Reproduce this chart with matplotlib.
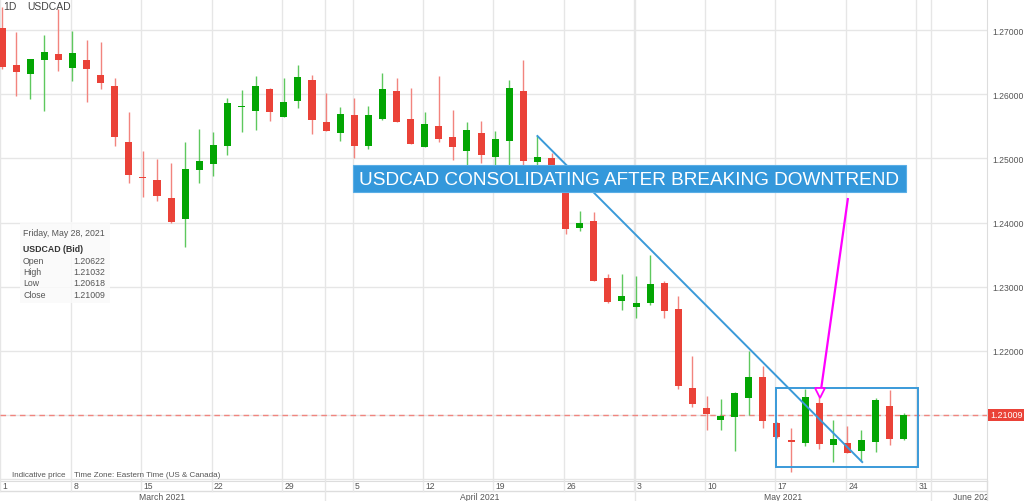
import matplotlib
matplotlib.use('Agg')
import matplotlib.pyplot as plt
from matplotlib.patches import Rectangle
from matplotlib.transforms import blended_transform_factory
import numpy as np
import pandas as pd

plt.rcParams['font.family'] = ['Liberation Sans', 'DejaVu Sans']

# ---------------- data ----------------
dates = pd.bdate_range('2021-03-01', '2021-05-28')
opens = [1.27031, 1.26455, 1.26314, 1.26533, 1.26626, 1.26408, 1.26533, 1.26299, 1.26128, 1.25255,
         1.24710, 1.24663, 1.24383, 1.24055, 1.24819, 1.24912, 1.25193, 1.25800, 1.25738, 1.26081,
         1.25645, 1.25894, 1.26221, 1.25567, 1.25395, 1.25676, 1.25193, 1.25613, 1.26050, 1.25613,
         1.25177, 1.25504, 1.25333, 1.25115, 1.25395, 1.25021, 1.25271, 1.26050, 1.24943, 1.25006,
         1.24650, 1.23915, 1.24024, 1.23134, 1.22778, 1.22684, 1.22747, 1.23056, 1.22653, 1.21424,
         1.21112, 1.20925, 1.20971, 1.21268, 1.21594, 1.20877, 1.20610, 1.20565, 1.21190, 1.20534,
         1.20565, 1.20441, 1.20590, 1.21143, 1.20622]
highs = [1.27358, 1.26969, 1.26548, 1.26922, 1.27327, 1.26984, 1.26844, 1.26813, 1.26252, 1.25722,
         1.25115, 1.24990, 1.24928, 1.25255, 1.25458, 1.25411, 1.25941, 1.26065, 1.26283, 1.26096,
         1.26252, 1.26455, 1.26299, 1.26018, 1.25800, 1.25941, 1.25816, 1.26330, 1.26252, 1.26096,
         1.25722, 1.26283, 1.25754, 1.25567, 1.25582, 1.25426, 1.26221, 1.26533, 1.25349, 1.25084,
         1.24700, 1.24180, 1.24164, 1.23196, 1.23196, 1.23165, 1.23495, 1.23087, 1.22853, 1.21921,
         1.21299, 1.21252, 1.21361, 1.21999, 1.21765, 1.20900, 1.20800, 1.21408, 1.21284, 1.20925,
         1.20831, 1.20768, 1.21268, 1.21392, 1.21032]
lows = [1.26392, 1.25972, 1.25925, 1.25738, 1.26361, 1.26205, 1.25878, 1.26081, 1.25193, 1.24616,
        1.24399, 1.24336, 1.23993, 1.23619, 1.24616, 1.24725, 1.25052, 1.25411, 1.25442, 1.25582,
        1.25645, 1.25785, 1.25380, 1.25426, 1.25271, 1.25006, 1.25146, 1.25598, 1.25567, 1.25224,
        1.25177, 1.25255, 1.24975, 1.24850, 1.24928, 1.24870, 1.24834, 1.24850, 1.24897, 1.24600,
        1.23822, 1.23868, 1.23087, 1.22747, 1.22638, 1.22513, 1.22716, 1.22513, 1.21408, 1.21127,
        1.20768, 1.20768, 1.20441, 1.21003, 1.20800, 1.20640, 1.20114, 1.20519, 1.20472, 1.20270,
        1.20410, 1.20285, 1.20425, 1.20534, 1.20618]
closes = [1.26424, 1.26346, 1.26548, 1.26657, 1.26533, 1.26642, 1.26392, 1.26174, 1.25333, 1.24741,
          1.24695, 1.24414, 1.24009, 1.24834, 1.24959, 1.25208, 1.25863, 1.25816, 1.26128, 1.25722,
          1.25878, 1.26268, 1.25598, 1.25426, 1.25691, 1.25193, 1.25676, 1.26081, 1.25567, 1.25224,
          1.25535, 1.25302, 1.25177, 1.25442, 1.25052, 1.25302, 1.26096, 1.24959, 1.25021, 1.24700,
          1.23900, 1.23993, 1.23087, 1.22762, 1.22853, 1.22747, 1.23040, 1.22622, 1.21454, 1.21174,
          1.21018, 1.20987, 1.21346, 1.21594, 1.20909, 1.20659, 1.20590, 1.21284, 1.20550, 1.20628,
          1.20410, 1.20610, 1.21236, 1.20628, 1.21009]

price_ticks = [1.20, 1.21, 1.22, 1.23, 1.24, 1.25, 1.26, 1.27]
week_labels = ['1', '8', '15', '22', '29', '5', '12', '19', '26', '3', '10', '17', '24', '31']
week_idx = [0, 5, 10, 15, 20, 25, 30, 35, 40, 45, 50, 55, 60, 65]
month_labels = ['March 2021', 'April 2021', 'May 2021', 'June 2021']
month_idx = [0, 23, 45, 66]
banner_text = 'USDCAD CONSOLIDATING AFTER BREAKING DOWNTREND'
last_close = closes[-1]

# ---------------- style ----------------
GREEN = '#03a503'
RED = '#ea4238'
GREEN_W = '#5ec85e'
RED_W = '#f2847e'
GRID = '#e6e6e6'
BLUE = '#3a9ad9'
TXT = '#555555'

W, H = 1024, 502
fig = plt.figure(figsize=(W / 100, H / 100), dpi=100)
fig.patch.set_facecolor('white')

x_left_px, x_right_px, plot_bottom_px = 0, 987, 482
ax = fig.add_axes([0, (H - plot_bottom_px) / H, x_right_px / W, plot_bottom_px / H])
px_per_day = 14.09
x0 = 2.0
ax.set_xlim((x_left_px - x0) / px_per_day, (x_right_px - x0) / px_per_day)
ax.set_ylim(1.19975, 1.27483)

idx = np.arange(len(opens))
o = np.array(opens); c = np.array(closes); hi = np.array(highs); lo = np.array(lows)
up = c >= o

# grid
for p in price_ticks:
    ax.axhline(p, color=GRID, lw=1, zorder=0)
for wi in week_idx:
    ax.axvline(wi - 0.12, color=GRID, lw=1, zorder=0)
for mi in month_idx[1:]:
    ax.axvline(mi - 0.08, color=GRID, lw=1, zorder=0)

# candles
ax.vlines(idx[up], lo[up], hi[up], color=GREEN_W, lw=1, zorder=2)
ax.vlines(idx[~up], lo[~up], hi[~up], color=RED_W, lw=1, zorder=2)
body_lo = np.minimum(o, c)
body_h = np.maximum(np.abs(c - o), 0.00012)
ax.bar(idx[up], body_h[up], bottom=body_lo[up], width=0.5, color=GREEN, zorder=3, linewidth=0)
ax.bar(idx[~up], body_h[~up], bottom=body_lo[~up], width=0.5, color=RED, zorder=3, linewidth=0)

# last price dashed line
ax.axhline(last_close, color='#f0857f', lw=1, ls=(0, (4, 3)), zorder=1)

# trendline
ax.plot([38, 61.05], [highs[38], 1.2027], color=BLUE, lw=1.4, zorder=5)
# consolidation rectangle
ax.add_patch(Rectangle((54.93, 1.2019), 65.0 - 54.93, 1.2142 - 1.2019, fill=False,
                       ec=BLUE, lw=1.4, zorder=5))
# magenta arrow
ax.plot([60.04, 58.13], [1.24383, 1.21400], color='#ff00ff', lw=1.6, zorder=6,
        solid_capstyle='butt')
ax.plot([58.08], [1.2135], marker='v', ms=7, mfc='white', mec='#ff00ff', mew=1.3, zorder=7)

# banner
ax.add_patch(Rectangle((24.91, 1.24477), 64.16 - 24.91, 1.24897 - 1.24477, fc='#3498db',
                       ec='#5aaee6', lw=0.8, zorder=8))
ax.text((24.91 + 64.16) / 2, 1.24670, banner_text, color='white', fontsize=13.7,
        ha='center', va='center', zorder=9)

# axes cosmetics
for s in ['top', 'left']:
    ax.spines[s].set_visible(False)
ax.spines['right'].set_color('#dddddd')
ax.spines['bottom'].set_color('#dddddd')
ax.yaxis.tick_right()
ax.set_yticks(price_ticks)
ax.set_yticklabels(['' if p < 1.215 else f'{p:.5f}' for p in price_ticks])
ax.tick_params(axis='y', length=0, pad=4, labelsize=6.2, labelcolor=TXT)
ax.set_xticks([])

# last price box
trans = blended_transform_factory(fig.transFigure, ax.transData)
ax.add_patch(Rectangle((988 / W, last_close - 0.00095), 36 / W, 0.0019, fc=RED, ec='none',
                       transform=trans, clip_on=False, zorder=10))
ax.text(990 / W, last_close, f'{last_close:.5f}', transform=trans, color='white',
        fontsize=6.5, va='center', ha='left', clip_on=False, zorder=11)

# date axis
axd = fig.add_axes([0, 0, x_right_px / W, (H - plot_bottom_px) / H])
axd.set_xlim(ax.get_xlim())
axd.set_ylim(0, 20)
axd.axis('off')
axd.axhline(10, color='#dddddd', lw=1)
for wi, lab in zip(week_idx, week_labels):
    axd.plot([wi - 0.12, wi - 0.12], [10, 20], color=GRID, lw=1)
    axd.text(wi + 0.05, 15, lab, fontsize=6.2, color=TXT, ha='left', va='center', clip_on=True)
bounds = [ax.get_xlim()[0]] + [m - 0.08 for m in month_idx[1:]] + [72.0]
for mi in month_idx[1:]:
    axd.plot([mi - 0.08, mi - 0.08], [0, 20], color=GRID, lw=1)
for k, lab in enumerate(month_labels):
    axd.text((bounds[k] + bounds[k + 1]) / 2, 4.5, lab, fontsize=6.2, color=TXT,
             ha='center', va='center', clip_on=True)
axd.plot([axd.get_xlim()[1]] * 2, [0, 20], color='#dddddd', lw=1, clip_on=False)

# header
fig.text(3 / W, 1 - 7 / H, '1D', fontsize=7.5, color='#444444', va='center')
fig.text(27 / W, 1 - 7 / H, 'USDCAD', fontsize=7.5, color='#444444', va='center')

# tooltip
fig.patches.append(Rectangle((20 / W, 1 - 304 / H), 90 / W, 81 / H, transform=fig.transFigure,
                             fc='#fafafa', ec='none', alpha=0.85, zorder=1))
fig.text(23 / W, 1 - 233 / H, 'Friday, May 28, 2021', fontsize=6.3, color=TXT, va='center',
         zorder=4)
fig.text(23 / W, 1 - 250 / H, 'USDCAD (Bid)', fontsize=6.3, color='#333333', va='center',
         fontweight='bold', zorder=4)
for lab, val, yy in [('Open', '1.20622', 262), ('High', '1.21032', 273),
                     ('Low', '1.20618', 284), ('Close', '1.21009', 296)]:
    fig.text(23 / W, 1 - yy / H, lab, fontsize=6.3, color=TXT, va='center', zorder=4)
    fig.text(73 / W, 1 - yy / H, val, fontsize=6.3, color=TXT, va='center', zorder=4)

# footer
fig.text(12 / W, 1 - 476 / H, 'Indicative price', fontsize=5.8, color=TXT, va='center')
fig.text(74 / W, 1 - 476 / H, 'Time Zone: Eastern Time (US & Canada)', fontsize=5.8,
         color=TXT, va='center')

fig.savefig('out.png', dpi=100)
